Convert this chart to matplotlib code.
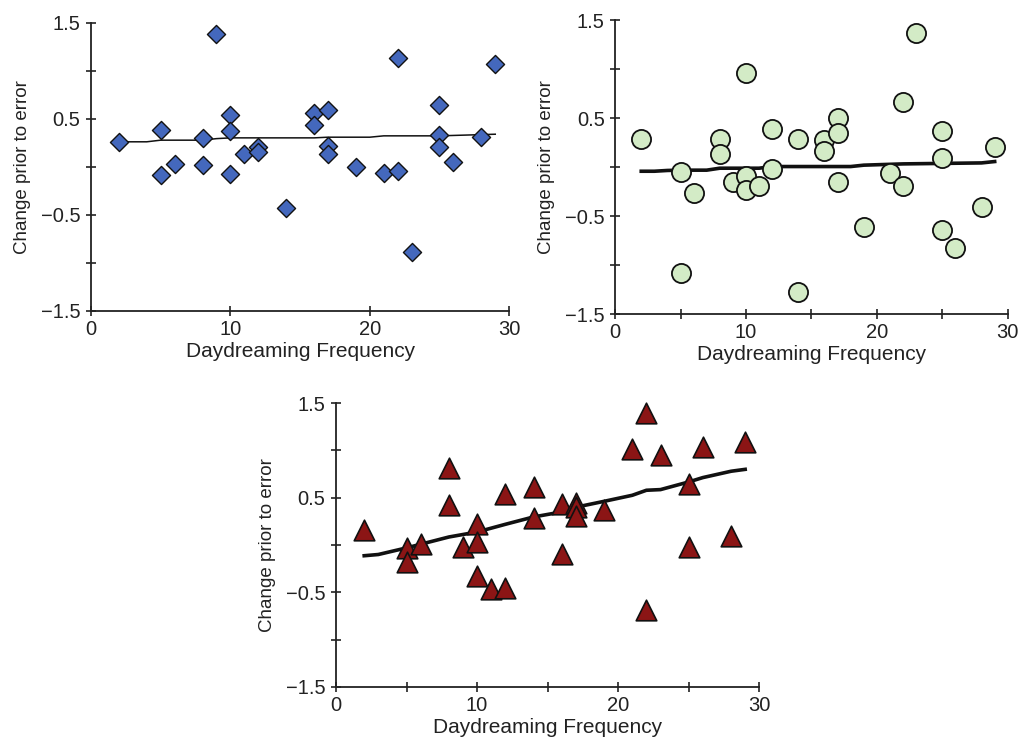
import matplotlib
matplotlib.use("Agg")
import matplotlib.pyplot as plt

plt.rcParams["font.family"] = ["Liberation Sans", "DejaVu Sans"]

# panel 1: blue diamonds
x1 = [2, 5, 5, 6, 8, 8, 9, 10, 10, 10, 11, 12, 12, 14, 16, 16, 17, 17, 17,
      19, 21, 22, 22, 23, 25, 25, 25, 26, 28, 29]
y1 = [0.26, 0.39, -0.085, 0.026, 0.30, 0.02, 1.386, 0.543, 0.376, -0.071,
      0.133, 0.203, 0.158, -0.432, 0.567, 0.435, 0.591, 0.217, 0.133,
      0.002, -0.061, -0.04, 1.136, -0.883, 0.647, 0.331, 0.21, 0.05, 0.314, 1.077]
fit1_x = [2, 4, 5, 8, 9, 10, 16, 17, 20, 21, 25, 29]
fit1_y = [0.262, 0.262, 0.279, 0.279, 0.295, 0.303, 0.303, 0.31, 0.31, 0.324, 0.324, 0.341]

# panel 2: green circles
x2 = [2, 5, 5, 6, 8, 8, 9, 10, 10, 10, 11, 12, 12, 14, 14, 16, 16, 17, 17, 17,
      19, 21, 22, 22, 23, 25, 25, 25, 26, 28, 29]
y2 = [0.29, -0.049, -1.082, -0.26, 0.29, 0.134, -0.148, 0.963, -0.087, -0.233,
      -0.189, 0.385, -0.022, 0.29, -1.279, 0.277, 0.165, 0.498, 0.345, -0.148,
      -0.613, -0.063, 0.668, -0.189, 1.371, 0.369, 0.09, -0.641, -0.828, -0.403, 0.205]
fit2_x = [2, 3, 4, 5, 7, 8, 11, 12, 18, 19, 22, 28, 29]
fit2_y = [-0.043, -0.043, -0.035, -0.032, -0.032, -0.012, -0.012, 0.005, 0.005,
          0.019, 0.032, 0.042, 0.056]

# panel 3: red triangles
x3 = [2, 5, 5, 6, 8, 8, 9, 10, 10, 10, 11, 12, 12, 14, 14, 16, 16, 17, 17, 17,
      19, 21, 22, 22, 23, 25, 25, 26, 28, 29]
y3 = [0.163, -0.031, -0.18, 0.011, 0.819, 0.42, -0.024, 0.226, 0.032, -0.328,
      -0.462, 0.537, -0.451, 0.614, 0.286, 0.431, -0.095, 0.449, 0.403, 0.304,
      0.374, 1.013, 1.391, -0.684, 0.953, 0.65, -0.021, 1.031, 0.092, 1.084]
fit3_x = [2, 3, 5, 8, 10, 12, 14, 16, 17, 19, 21, 22, 23, 25, 26, 28, 29]
fit3_y = [-0.113, -0.10, -0.03, 0.085, 0.138, 0.219, 0.297, 0.35, 0.40, 0.462,
          0.526, 0.579, 0.586, 0.667, 0.713, 0.78, 0.80]

y_ticks = [-1.5, -1.0, -0.5, 0, 0.5, 1.0, 1.5]
y_labels = ["\u22121.5", "", "\u22120.5", "", "0.5", "", "1.5"]


def style_axis(ax, xticks):
    ax.set_xlim(0, 30)
    ax.set_ylim(-1.5, 1.5)
    ax.spines["top"].set_visible(False)
    ax.spines["right"].set_visible(False)
    for s in ("left", "bottom"):
        ax.spines[s].set_linewidth(1.3)
        ax.spines[s].set_color("#222222")
    ax.set_yticks(y_ticks)
    ax.set_yticklabels(y_labels)
    ax.set_xticks(xticks)
    ax.set_xticklabels([str(t) if t % 10 == 0 else "" for t in xticks])
    ax.tick_params(direction="inout", length=7, width=1.2, labelsize=14.5,
                   color="#222222", labelcolor="#222222")
    ax.tick_params(axis="x", pad=3)
    ax.tick_params(axis="y", pad=4)
    ax.set_xlabel("Daydreaming Frequency", fontsize=15, labelpad=2, color="#222222")
    ax.set_ylabel("Change prior to error", fontsize=13.5, labelpad=7, color="#222222")
    for lbl in ax.get_xticklabels() + ax.get_yticklabels():
        lbl.set_clip_on(False)


fig = plt.figure(figsize=(10.2, 7.45), dpi=100)

ax1 = fig.add_axes([0.0892, 0.5826, 0.41, 0.3866])
ax1.plot(fit1_x, fit1_y, color="#111111", lw=1.1, zorder=2)
ax1.scatter(x1, y1, marker="D", s=85, c="#4468bd", edgecolors="#111111",
            linewidths=1.0, zorder=3, clip_on=False)
style_axis(ax1, [0, 10, 20, 30])

ax2 = fig.add_axes([0.603, 0.5785, 0.385, 0.3946])
ax2.plot(fit2_x, fit2_y, color="#111111", lw=2.6, zorder=2)
ax2.scatter(x2, y2, marker="o", s=190, c="#d3ebc6", edgecolors="#111111",
            linewidths=1.3, zorder=3, clip_on=False)
style_axis(ax2, [0, 5, 10, 15, 20, 25, 30])

ax3 = fig.add_axes([0.3294, 0.0779, 0.415, 0.381])
ax3.plot(fit3_x, fit3_y, color="#111111", lw=2.6, zorder=2)
ax3.scatter(x3, y3, marker="^", s=220, c="#8b1515", edgecolors="#111111",
            linewidths=1.2, zorder=3, clip_on=False)
style_axis(ax3, [0, 5, 10, 15, 20, 25, 30])

fig.savefig("out.png", dpi=100)
